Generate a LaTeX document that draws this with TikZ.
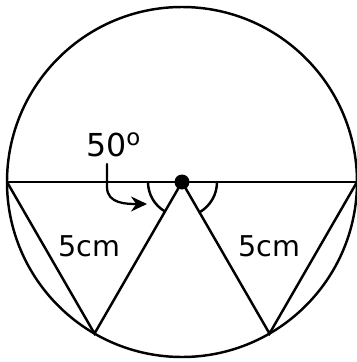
\documentclass[tikz,border=0pt]{standalone}
\usepackage{fontspec}
\setmainfont{DejaVu Sans}
\usetikzlibrary{arrows.meta}

\begin{document}
\begin{tikzpicture}[>={Stealth[length=3.2mm,width=3mm]},line cap=round,line width=1.4pt,
  lbl/.style={font=\fontsize{16.3}{18}\selectfont,inner sep=0pt,anchor=base west},
  ang/.style={font=\fontsize{18}{20}\selectfont,inner sep=0pt,anchor=base west}]
\useasboundingbox (-3.64,-3.6) rectangle (3.5,3.64);
\coordinate (O) at (0,0);
\coordinate (L) at (180:3.5);
\coordinate (R) at (0:3.5);
\coordinate (A) at (240:3.5);
\coordinate (B) at (300:3.5);
\draw (O) circle (3.5);
\draw (L) -- (R);
\draw (L) -- (A) -- (O) -- (B) -- (R);
% angle marks
\draw ([shift={(180:0.68)}]O) arc (180:240:0.68);
\draw ([shift={(300:0.7)}]O) arc (300:360:0.7);
\fill (O) circle (0.15);
% labels
\node[ang] (angle) at (-1.94,0.52) {50\raisebox{0.6ex}{\fontsize{13}{13}\selectfont o}};
\node[lbl] (sl) at (-2.5,-1.48) {5cm};
\node[lbl] (sr) at (1.1,-1.48) {5cm};
\coordinate (tip) at (-0.7,-0.44);
\draw[->,line width=1.3pt] (-1.5,0.36) -- (-1.5,-0.1) .. controls (-1.5,-0.44) and (-1.1,-0.44) .. (tip);
\end{tikzpicture}
\end{document}
